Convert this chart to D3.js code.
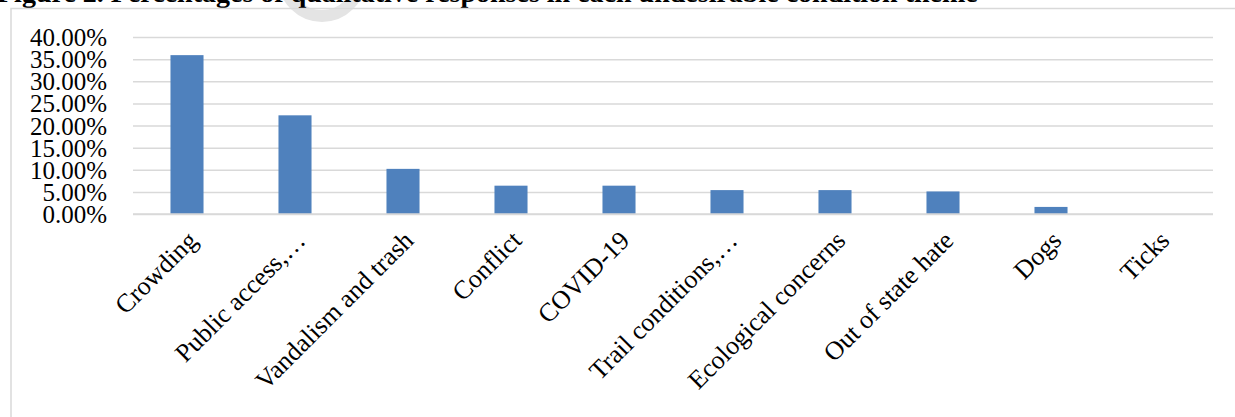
<!DOCTYPE html>
<html>
<head>
<meta charset="utf-8">
<script src="https://cdn.jsdelivr.net/npm/d3@7"></script>
<style>
  html, body { margin: 0; padding: 0; background: #fff; }
  svg { display: block; }
  text { font-family: "Liberation Serif", "Times New Roman", serif; fill: #000; }
</style>
</head>
<body>
<svg id="chart" width="1235" height="417"></svg>
<script>
// Undesirable condition themes and share of qualitative responses (fraction)
const categories = [
  "Crowding", "Public access,…", "Vandalism and trash", "Conflict", "COVID-19",
  "Trail conditions,…", "Ecological concerns", "Out of state hate", "Dogs", "Ticks"
];
const shares = [0.359, 0.223, 0.102, 0.064, 0.064, 0.054, 0.054, 0.051, 0.016, 0.0];
const yTicks = [0, 0.05, 0.10, 0.15, 0.20, 0.25, 0.30, 0.35, 0.40];
const titleText = "Figure 2. Percentages of qualitative responses in each undesirable condition theme";

const svg = d3.select("#chart");
const plot = { left: 133, right: 1213, top: 37, bottom: 214 };

// Faint stamp behind the caption
svg.append("circle")
  .attr("cx", 322).attr("cy", -22).attr("r", 38)
  .attr("fill", "none").attr("stroke", "#e4e4e4").attr("stroke-width", 12);

// Figure caption, partly above the page edge
svg.append("text")
  .attr("x", -3).attr("y", 2)
  .attr("font-size", 28).attr("font-weight", "bold")
  .text(titleText);

// Chart area border
svg.append("path")
  .attr("d", "M11,417 V8.5 H1235")
  .attr("fill", "none").attr("stroke", "#d9d9d9").attr("stroke-width", 1.5);

const x = d3.scaleBand()
  .domain(categories)
  .range([plot.left, plot.right])
  .paddingInner(0.694)
  .paddingOuter(0.347);

const y = d3.scaleLinear().domain([0, 0.40]).range([plot.bottom, plot.top]);

// Horizontal gridlines and percentage labels
const yAxis = d3.axisLeft(y)
  .tickValues(yTicks)
  .tickFormat(d3.format(".2%"))
  .tickSize(-(plot.right - plot.left))
  .tickPadding(26);

const gy = svg.append("g").attr("transform", `translate(${plot.left},0)`).call(yAxis);
gy.select(".domain").remove();
gy.selectAll(".tick line").attr("stroke", "#d9d9d9").attr("stroke-width", 1.5);
gy.selectAll(".tick text")
  .attr("font-size", 25)
  .attr("font-family", "Liberation Serif, Times New Roman, serif")
  .attr("fill", "#000")
  .attr("dy", "0.34em");

// Bars
svg.append("g").selectAll("rect")
  .data(categories)
  .join("rect")
  .attr("x", d => x(d))
  .attr("width", x.bandwidth())
  .attr("y", (d, i) => y(shares[i]))
  .attr("height", (d, i) => y(0) - y(shares[i]))
  .attr("fill", "#4f81bd");

// Category axis
const xAxis = d3.axisBottom(x).tickSize(0).tickPadding(0);
const gx = svg.append("g").attr("transform", `translate(0,${plot.bottom})`).call(xAxis);
gx.select(".domain").attr("stroke", "#d9d9d9").attr("stroke-width", 1.5)
  .attr("d", `M${plot.left},0H${plot.right}`);
gx.selectAll(".tick text")
  .attr("font-size", 26)
  .attr("font-family", "Liberation Serif, Times New Roman, serif")
  .attr("fill", "#000")
  .attr("text-anchor", "end")
  .attr("dy", 0)
  .attr("transform", "translate(12,28) rotate(-45)");
</script>
</body>
</html>
